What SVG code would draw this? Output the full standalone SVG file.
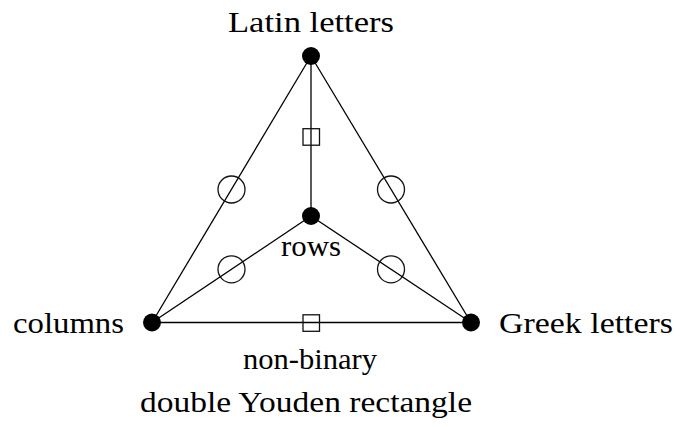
<svg xmlns="http://www.w3.org/2000/svg" width="694" height="427" viewBox="0 0 694 427">
<style>
.e{stroke:#000;stroke-width:1.3;fill:none}
.d{fill:#000}
.c{fill:none;stroke:#111;stroke-width:1.3}
.t{font-family:"Liberation Serif","Times New Roman",serif;font-size:29px;fill:#000}
</style>
<rect width="694" height="427" fill="#fff"/>
<g id="connectors">
<line class="e" x1="311" y1="56" x2="152" y2="322.5"/>
<line class="e" x1="311" y1="56" x2="471" y2="322.5"/>
<line class="e" x1="311" y1="56" x2="311" y2="216"/>
<line class="e" x1="311" y1="216" x2="152" y2="322.5"/>
<line class="e" x1="311" y1="216" x2="471" y2="322.5"/>
<line class="e" x1="152" y1="322.5" x2="471" y2="322.5"/>
<circle class="c" cx="231.5" cy="189.5" r="13.5"/>
<circle class="c" cx="391" cy="189.5" r="13.5"/>
<circle class="c" cx="231.5" cy="269.3" r="13.5"/>
<circle class="c" cx="391" cy="269.3" r="13.5"/>
<rect class="c" x="303" y="128.7" width="16.5" height="16.5"/>
<rect class="c" x="303" y="314.8" width="16.5" height="16.5"/>
</g>
<g id="latin"><circle class="d" cx="311" cy="56" r="9"/><text class="t" x="311" y="32" text-anchor="middle" textLength="166" lengthAdjust="spacingAndGlyphs">Latin letters</text></g>
<g id="rows"><circle class="d" cx="311" cy="216" r="9"/><text class="t" x="311" y="256" text-anchor="middle" textLength="60" lengthAdjust="spacingAndGlyphs">rows</text></g>
<g id="columns"><circle class="d" cx="152" cy="322.5" r="9"/><text class="t" x="124" y="333" text-anchor="end" textLength="111" lengthAdjust="spacingAndGlyphs">columns</text></g>
<g id="greek"><circle class="d" cx="471" cy="322.5" r="9"/><text class="t" x="499" y="333" textLength="174" lengthAdjust="spacingAndGlyphs">Greek letters</text></g>
<g id="caption"><text class="t" x="310" y="369" text-anchor="middle" textLength="134" lengthAdjust="spacingAndGlyphs">non-binary</text><text class="t" x="306" y="412" text-anchor="middle" textLength="332" lengthAdjust="spacingAndGlyphs">double Youden rectangle</text></g>
</svg>
